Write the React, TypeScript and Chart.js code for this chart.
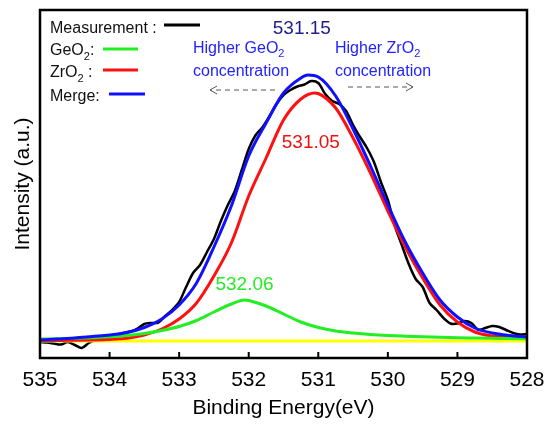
import { useEffect, useRef } from "react";
import { Chart, registerables } from "chart.js";

Chart.register(...registerables);

const FONT = '"Liberation Sans", Arial, Helvetica, sans-serif';

// Binding-energy axis (eV); drawn high → low
const axisMin = 528;
const axisMax = 535;
const tickStep = 1;

// Measured O 1s spectrum (0.1 eV steps)
const measuredEnergy = [
  535.0, 534.9, 534.8, 534.7, 534.6, 534.5, 534.4, 534.3, 534.2, 534.1,
  534.0, 533.9, 533.8, 533.7, 533.6, 533.5, 533.4, 533.3, 533.2, 533.1,
  533.0, 532.9, 532.8, 532.7, 532.6, 532.5, 532.4, 532.3, 532.2, 532.1,
  532.0, 531.9, 531.8, 531.7, 531.6, 531.5, 531.4, 531.3, 531.2, 531.1,
  531.0, 530.9, 530.8, 530.7, 530.6, 530.5, 530.4, 530.3, 530.2, 530.1,
  530.0, 529.9, 529.8, 529.7, 529.6, 529.5, 529.4, 529.3, 529.2, 529.1,
  529.0, 528.9, 528.8, 528.7, 528.6, 528.5, 528.4, 528.3, 528.2, 528.1,
  528.0,
];
const measuredIntensity = [
  -1, -1.5, -2.5, -3.5, -1, -4, -7, -2, 1, 2.4,
  3.6, 5.6, 8, 9.5, 12.5, 17, 18, 18.3, 25, 31,
  39, 54, 68, 76, 89, 102, 120, 136, 150, 171,
  192, 206, 214, 225, 237, 246, 251, 254.5, 256.5, 260,
  258, 247, 240, 237, 230, 216, 204, 193, 179, 159,
  141, 115, 96, 77, 62, 54, 38, 31, 23, 17.5,
  17.5, 20, 18, 11, 13, 15, 14, 11, 8, 6.5,
  7,
];

// Fitted component peak positions (eV)
const geO2Peak = 532.06;
const zrO2Peak = 531.05;
const mergePeak = 531.15;

// GeO2 component
const geO2Energy = [
  535, 534.75, 534.5, 534.25, 534, 533.75, 533.5, 533.25, 533, 532.75,
  532.5, 532.25, 532.06, 532, 531.75, 531.5, 531.25, 531, 530.75, 530.5,
  530.25, 530, 529.75, 529.5, 529.25, 529, 528.75, 528.5, 528.25, 528,
];
const geO2Intensity = [
  2, 2.3, 2.7, 3.3, 4.2, 5.5, 7.5, 10.5, 14.5, 20.5,
  29, 37, 41, 40.5, 35, 27, 19, 13.5, 10, 8,
  6.5, 5.5, 4.8, 4.2, 3.7, 3.3, 3, 2.7, 2.4, 2.2,
];

// ZrO2 component
const zrO2Energy = [
  535, 534.75, 534.5, 534.25, 534, 533.75, 533.5, 533.25, 533, 532.75,
  532.5, 532.25, 532, 531.75, 531.5, 531.25, 531.05, 531, 530.75, 530.5,
  530.25, 530, 529.75, 529.5, 529.25, 529, 528.75, 528.5, 528.25, 528,
];
const zrO2Intensity = [
  0.5, 0.5, 0.7, 1, 1.5, 2.7, 6, 12, 22, 38,
  65, 98, 145, 183, 221, 242, 248, 247.5, 233, 203,
  168, 130, 94, 63, 36, 19, 9, 5, 3.5, 3,
];

// Sum of the components
const mergeEnergy = [
  535, 534.75, 534.5, 534.25, 534, 533.75, 533.5, 533.25, 533, 532.75,
  532.5, 532.25, 532, 531.75, 531.5, 531.25, 531.15, 531, 530.75, 530.5,
  530.25, 530, 529.75, 529.5, 529.25, 529, 528.75, 528.5, 528.25, 528,
];
const mergeIntensity = [
  1, 2, 3, 4.5, 6, 8.5, 13.5, 22, 36, 58,
  94, 135, 185, 218, 248, 263, 266, 264, 245, 212,
  175, 136, 99, 68, 41, 24, 13, 8, 5.5, 4,
];

// Background
const backgroundEnergy = [535, 528];
const backgroundIntensity = [0, 0];

const pts = (xs: number[], ys: number[]) => xs.map((x, i) => ({ x, y: ys[i] }));

type Part = { t: string; sub?: boolean };

function drawRich(
  ctx: CanvasRenderingContext2D,
  parts: Part[],
  x: number,
  baseline: number,
  size: number,
  color: string,
  align: "left" | "center" = "left"
) {
  ctx.fillStyle = color;
  ctx.textAlign = "left";
  ctx.textBaseline = "alphabetic";
  const subSize = Math.round(size * 0.68);
  let total = 0;
  for (const p of parts) {
    ctx.font = `${p.sub ? subSize : size}px ${FONT}`;
    total += ctx.measureText(p.t).width;
  }
  let cx = align === "center" ? x - total / 2 : x;
  for (const p of parts) {
    ctx.font = `${p.sub ? subSize : size}px ${FONT}`;
    ctx.fillText(p.t, cx, baseline + (p.sub ? size * 0.3 : 0));
    cx += ctx.measureText(p.t).width;
  }
  return cx;
}

function dashedArrow(ctx: CanvasRenderingContext2D, x0: number, x1: number, y: number) {
  ctx.save();
  ctx.strokeStyle = "#555";
  ctx.lineWidth = 1;
  ctx.setLineDash([5, 4]);
  ctx.beginPath();
  ctx.moveTo(x0, y);
  ctx.lineTo(x1, y);
  ctx.stroke();
  ctx.setLineDash([]);
  const dir = x1 > x0 ? 1 : -1;
  ctx.beginPath();
  ctx.moveTo(x1 - dir * 7, y - 4);
  ctx.lineTo(x1, y);
  ctx.lineTo(x1 - dir * 7, y + 4);
  ctx.stroke();
  ctx.restore();
}

const overlay = {
  id: "xpsOverlay",
  afterDatasetsDraw(chart: any) {
    const { ctx, chartArea: a, scales } = chart;
    const xs = scales.x;
    const ys = scales.y;
    ctx.save();

    // plot frame
    ctx.strokeStyle = "#000";
    ctx.lineWidth = 2.5;
    ctx.strokeRect(a.left, a.top, a.right - a.left, a.bottom - a.top);

    // inward tick marks
    ctx.lineWidth = 2;
    for (const t of xs.ticks) {
      const px = xs.getPixelForValue(t.value);
      ctx.beginPath();
      ctx.moveTo(px, a.bottom);
      ctx.lineTo(px, a.bottom - 6);
      ctx.stroke();
    }

    // legend
    const L = a.left;
    const T = a.top;
    const legend: { parts: Part[]; base: number; color: string; x0: number; x1: number; ly: number }[] = [
      { parts: [{ t: "Measurement :" }], base: 23, color: "#000", x0: 124, x1: 160, ly: 15 },
      { parts: [{ t: "GeO" }, { t: "2", sub: true }, { t: ":" }], base: 45, color: "#22ee22", x0: 63, x1: 98, ly: 39 },
      { parts: [{ t: "ZrO" }, { t: "2", sub: true }, { t: " :" }], base: 67, color: "#ff1010", x0: 63, x1: 98, ly: 60 },
      { parts: [{ t: "Merge:" }], base: 91, color: "#1010ff", x0: 69, x1: 105, ly: 84 },
    ];
    for (const e of legend) {
      drawRich(ctx, e.parts, L + 10, T + e.base, 16, "#111");
      ctx.strokeStyle = e.color;
      ctx.lineWidth = 3;
      ctx.beginPath();
      ctx.moveTo(L + e.x0, T + e.ly);
      ctx.lineTo(L + e.x1, T + e.ly);
      ctx.stroke();
    }

    // concentration hints
    const blue = "#2222ff";
    drawRich(ctx, [{ t: "Higher GeO" }, { t: "2", sub: true }], L + 153, T + 42.5, 16, blue);
    drawRich(ctx, [{ t: "concentration" }], L + 153, T + 65.5, 16, blue);
    drawRich(ctx, [{ t: "Higher ZrO" }, { t: "2", sub: true }], L + 295, T + 42.5, 16, blue);
    drawRich(ctx, [{ t: "concentration" }], L + 295, T + 65.5, 16, blue);
    dashedArrow(ctx, L + 235, L + 170, T + 80);
    dashedArrow(ctx, L + 308, L + 373, T + 77);

    // peak position labels
    const y0 = ys.getPixelForValue(0);
    drawRich(ctx, [{ t: mergePeak.toFixed(2) }], xs.getPixelForValue(mergePeak) - 6, T + 23.5, 19, "#1e1e8a", "center");
    drawRich(ctx, [{ t: zrO2Peak.toFixed(2) }], xs.getPixelForValue(zrO2Peak) - 4, T + 137.5, 19, "#f01010", "center");
    drawRich(ctx, [{ t: geO2Peak.toFixed(2) }], xs.getPixelForValue(geO2Peak), y0 - 51, 19, "#22ee22", "center");

    ctx.restore();
  },
};

export default function App() {
  const canvasRef = useRef<HTMLCanvasElement | null>(null);

  useEffect(() => {
    const canvas = canvasRef.current;
    if (!canvas) return;
    const line = (label: string, data: any[], color: string, width: number, order: number, smooth: boolean) => ({
      label,
      data,
      borderColor: color,
      backgroundColor: color,
      borderWidth: width,
      pointRadius: 0,
      fill: false,
      order,
      tension: smooth ? 0 : 0.3,
      cubicInterpolationMode: smooth ? ("monotone" as const) : ("default" as const),
    });
    const chart = new Chart(canvas, {
      type: "line",
      data: {
        datasets: [
          line("Merge", pts(mergeEnergy, mergeIntensity), "#1010ff", 3, 1, true),
          line("GeO2", pts(geO2Energy, geO2Intensity), "#22ee22", 3, 2, true),
          line("ZrO2", pts(zrO2Energy, zrO2Intensity), "#ff1010", 3, 3, true),
          line("Background", pts(backgroundEnergy, backgroundIntensity), "#ffff00", 3, 4, true),
          line("Measurement", pts(measuredEnergy, measuredIntensity), "#000000", 2.5, 5, false),
        ],
      },
      options: {
        responsive: false,
        animation: false,
        devicePixelRatio: 1,
        layout: { padding: { top: 10, right: 17, left: 0, bottom: 0 } },
        plugins: { legend: { display: false }, tooltip: { enabled: false } },
        scales: {
          x: {
            type: "linear",
            reverse: true,
            min: axisMin,
            max: axisMax,
            afterFit: (s: any) => {
              s.height = 66;
              s.paddingLeft = 0;
              s.paddingRight = 0;
            },
            grid: { display: false, drawTicks: false },
            border: { display: false },
            ticks: {
              stepSize: tickStep,
              autoSkip: false,
              maxRotation: 0,
              padding: 10,
              color: "#000",
              font: { family: FONT, size: 21 },
              callback: (v: any) => String(v),
            },
            title: {
              display: true,
              text: "Binding Energy(eV)",
              color: "#000",
              font: { family: FONT, size: 21 },
              padding: { top: 0, bottom: 3 },
            },
          },
          y: {
            type: "linear",
            min: -17,
            max: 331,
            afterFit: (s: any) => {
              s.width = 40;
              s.paddingTop = 0;
              s.paddingBottom = 0;
            },
            grid: { display: false, drawTicks: false },
            border: { display: false },
            ticks: { display: false },
            title: {
              display: true,
              text: "Intensity (a.u.)",
              color: "#000",
              font: { family: FONT, size: 21 },
              padding: { top: 11, bottom: 0 },
            },
          },
        },
      },
      plugins: [overlay],
    });
    return () => chart.destroy();
  }, []);

  return (
    <div style={{ position: "fixed", left: 0, top: 0, width: 544, height: 424, background: "#fff" }}>
      <canvas ref={canvasRef} width={544} height={424} style={{ width: 544, height: 424, display: "block" }} />
    </div>
  );
}
